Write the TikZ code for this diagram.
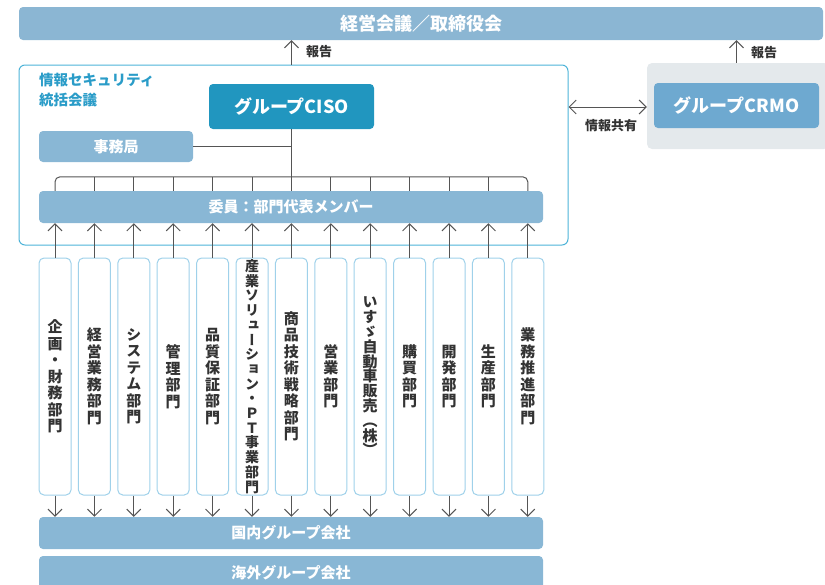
\documentclass[tikz,border=0pt]{standalone}
\usepackage{fontspec}
\setmainfont{Noto Sans CJK JP}
\newfontfamily\vfont[RawFeature=+vert]{Noto Sans CJK JP}
\usetikzlibrary{arrows.meta}
\definecolor{barblue}{HTML}{89B7D5}
\definecolor{topblue}{HTML}{8BB6D3}
\definecolor{cisoblue}{HTML}{2196BF}
\definecolor{crmoblue}{HTML}{6EA9D0}
\definecolor{graybg}{HTML}{E4E9EC}
\definecolor{cyanborder}{HTML}{4DB3D8}
\definecolor{titlecyan}{HTML}{2A9CC8}
\definecolor{deptborder}{HTML}{9FD1EA}
\definecolor{linegray}{HTML}{555555}
\definecolor{depttext}{HTML}{333333}
\tikzset{
  lbar/.style={fill=barblue, rounded corners=4pt, text=white, inner sep=0pt,
    font=\fontsize{15}{18}\selectfont\bfseries},
  deptbox/.style={draw=deptborder, line width=1pt, fill=white, rounded corners=5pt,
    minimum width=32pt, minimum height=237pt, inner sep=0pt, align=center,
    text=depttext, font=\vfont\fontsize{15}{16.5}\selectfont\bfseries},
  conn/.style={draw=linegray, line width=1pt},
  arr/.style={conn, -{Straight Barb[length=7pt,width=14pt]}},
  darr/.style={conn, {Straight Barb[length=7pt,width=14pt]}-{Straight Barb[length=7pt,width=14pt]}},
  lbl/.style={text=depttext, inner sep=0pt, font=\fontsize{13}{15}\selectfont\bfseries}
}
\begin{document}
\begin{tikzpicture}[x=1pt,y=-1pt]
\useasboundingbox (0,0) rectangle (825,584);
% top bar
\node[lbar, fill=topblue, minimum width=804pt, minimum height=33pt,
  font=\fontsize{18}{20}\selectfont\bfseries] (top) at (421,23.5) {経営会議／取締役会};
% left council box
\node[draw=cyanborder, line width=1pt, rounded corners=6pt, minimum width=549pt,
  minimum height=180pt, inner sep=0pt] (council) at (293.5,155) {};
\node[anchor=north west, align=left, text=titlecyan, inner sep=0pt,
  font=\fontsize{14.5}{20}\selectfont\bfseries] (ctitle) at (39,73) {情報セキュリティ\\統括会議};
\node[fill=cisoblue, rounded corners=4pt, minimum width=165pt, minimum height=45pt,
  inner sep=0pt, text=white, font=\fontsize{18}{20}\selectfont\bfseries] (ciso) at (291.5,106.5) {グループCISO};
\node[lbar, minimum width=154pt, minimum height=31pt] (jim) at (116,146.5) {事務局};
\node[lbar, minimum width=504pt, minimum height=32pt] (iin) at (291,207) {委員：部門代表メンバー};
% right gray box
\node[fill=graybg, rounded corners=5pt, minimum width=182pt, minimum height=86pt, inner sep=0pt] (gray) at (738,106) {};
\node[fill=crmoblue, rounded corners=4pt, minimum width=165pt, minimum height=45pt,
  inner sep=0pt, text=white, font=\fontsize{18}{20}\selectfont\bfseries] (crmo) at (736.5,105.5) {グループCRMO};
% bottom bars
\node[lbar, minimum width=504pt, minimum height=32pt] (kokunai) at (291,533) {国内グループ会社};
\node[lbar, minimum width=504pt, minimum height=34pt] (kaigai) at (291,573) {海外グループ会社};
% departments
\node[deptbox] (d0) at (55,376.5) {企\\画\\・\\財\\務\\部\\門};
\node[deptbox] (d1) at (94.4,376.5) {経\\営\\業\\務\\部\\門};
\node[deptbox] (d2) at (133.8,376.5) {シ\\ス\\テ\\ム\\部\\門};
\node[deptbox] (d3) at (173.2,376.5) {管\\理\\部\\門};
\node[deptbox] (d4) at (212.6,376.5) {品\\質\\保\\証\\部\\門};
\node[deptbox, font=\vfont\fontsize{14}{14.7}\selectfont\bfseries] (d5) at (252,376.5) {産\\業\\ソ\\リ\\ュ\\ー\\シ\\ョ\\ン\\・\\Ｐ\\Ｔ\\事\\業\\部\\門};
\node[deptbox] (d6) at (291.4,376.5) {商\\品\\技\\術\\戦\\略\\部\\門};
\node[deptbox] (d7) at (330.8,376.5) {営\\業\\部\\門};
\node[deptbox, font=\vfont\fontsize{15}{14.8}\selectfont\bfseries] (d8) at (370.2,376.5) {い\\す\\ゞ\\自\\動\\車\\販\\売\\（\\株\\）};
\node[deptbox] (d9) at (409.6,376.5) {購\\買\\部\\門};
\node[deptbox] (d10) at (449,376.5) {開\\発\\部\\門};
\node[deptbox] (d11) at (488.4,376.5) {生\\産\\部\\門};
\node[deptbox] (d12) at (527.8,376.5) {業\\務\\推\\進\\部\\門};
% bus
\path (iin.north) ++(0,-14) coordinate (busY);
\draw[conn, rounded corners=5pt] (d0.north |- iin.north) |- (d12.north |- busY) -- (d12.north |- iin.north);
\foreach \i in {1,...,11} {
  \draw[conn] (d\i.north |- busY) -- (d\i.north |- iin.north);
}
\draw[conn] (ciso.south) -- (ciso.south |- busY);
\draw[conn] (jim.east) -- (ciso.south |- jim.east);
% arrows from departments
\foreach \i in {0,...,12} {
  \draw[arr] (d\i.north) -- (d\i.north |- iin.south);
  \draw[arr] (d\i.south) -- (d\i.south |- kokunai.north);
}
% report arrows
\draw[arr] (council.north -| ciso.south) -- (top.south -| ciso.south);
\node[lbl, anchor=west] (rep1) at (306,52) {報告};
\draw[arr] (gray.north -| crmo.north) -- (top.south -| crmo.north);
\node[lbl, anchor=west] (rep2) at (751,53) {報告};
% info sharing
\draw[darr] (council.east |- 0,107) -- (gray.west |- 0,107);
\node[lbl] (share) at (611,126) {情報共有};
\end{tikzpicture}
\end{document}
